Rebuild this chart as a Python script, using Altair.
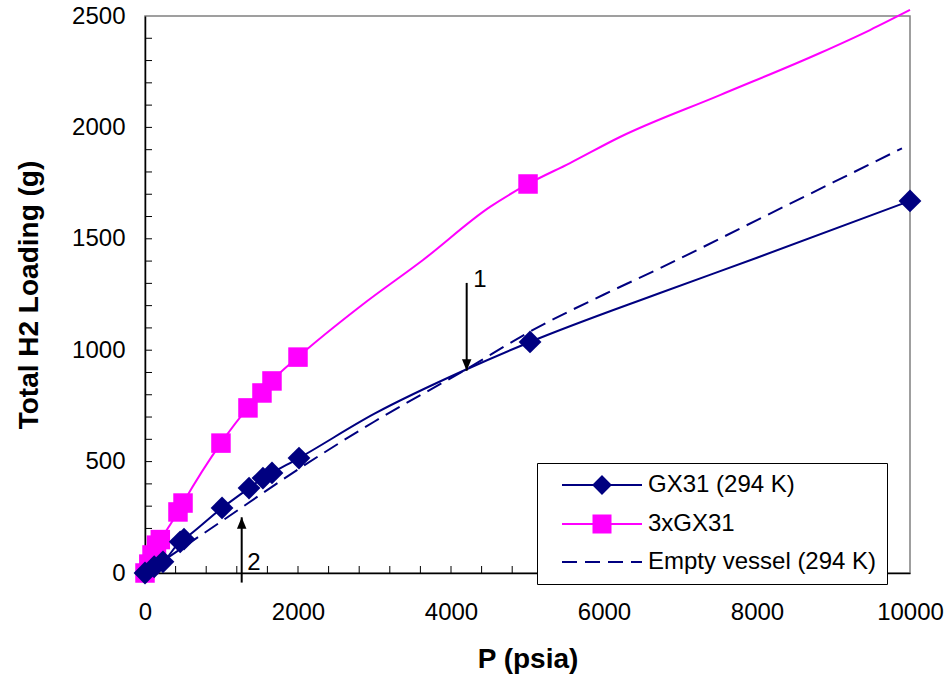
import altair as alt
import pandas as pd

FONT = "Liberation Sans"
NAVY = "#000080"
MAGENTA = "#FF00FF"

# ---- data ----
series_names = ["GX31 (294 K)", "3xGX31", "Empty vessel (294 K)"]

# GX31 (294 K): marked points
gx_p = [0, 120, 235, 460, 510, 1007, 1360, 1542, 1660, 2013, 5033, 10000]
gx_h2 = [0, 28, 50, 140, 152, 292, 381, 426, 449, 516, 1037, 1670]
# GX31 smoothed curve
gx_line_p = [0, 120, 235, 460, 510, 1007, 1360, 1542, 1660, 2013, 3000, 4183, 5033, 6732, 8000, 10000]
gx_line_h2 = [0, 28, 50, 140, 152, 292, 381, 426, 449, 516, 715, 911, 1037, 1257, 1415, 1670]

# 3xGX31: marked points
tx_p = [0, 50, 92, 150, 200, 431, 497, 993, 1346, 1529, 1660, 2000, 5007]
tx_h2 = [0, 40, 81, 125, 150, 274, 314, 583, 741, 808, 862, 969, 1746]
# 3xGX31 curve
tx_line_p = [0, 50, 92, 150, 200, 431, 497, 993, 1346, 1529, 1660, 2000, 2837, 3634, 4510,
             5007, 5556, 6209, 7516, 8824, 9477, 10000]
tx_line_h2 = [0, 40, 81, 125, 150, 274, 314, 583, 741, 808, 862, 969, 1203, 1405, 1643,
              1746, 1840, 1957, 2145, 2334, 2437, 2527]

# Empty vessel (294 K)
ev_p = [0, 1000, 2000, 3000, 4183, 5072, 6000, 6732, 8000, 9000, 9895]
ev_h2 = [0, 232, 465, 680, 911, 1091, 1250, 1368, 1584, 1754, 1906]

# annotation arrows: label, x, start, tip
arrow_labels = ["1", "2"]
arrow_p = [4205, 1264]
arrow_start = [1302, -43]
arrow_tip = [908, 250]
arrow_text_p = [4379, 1425]
arrow_text_h2 = [1315, 46]

# axis tick values
x_label_values = [0, 2000, 4000, 6000, 8000, 10000]
y_label_values = [0, 500, 1000, 1500, 2000, 2500]
x_minor = list(range(400, 10000, 400))
y_minor = list(range(100, 2500, 100))

# ---- encodings ----
x_enc = alt.X(
    "p:Q",
    scale=alt.Scale(domain=[0, 10000], nice=False, zero=False),
    axis=alt.Axis(
        values=x_label_values, format="d", ticks=False, grid=False, labelFlush=False,
        labelOverlap=False, labelPadding=27, labelFontSize=24, labelFont=FONT,
        labelColor="black", titleFont=FONT, titleFontSize=28, titleFontWeight="bold",
        titleColor="black", titlePadding=21, domainColor="black", domainWidth=1.5,
    ),
    title="P (psia)",
)
y_enc = alt.Y(
    "h2:Q",
    scale=alt.Scale(domain=[0, 2500], nice=False, zero=False),
    axis=alt.Axis(
        values=y_label_values, format="d", ticks=False, grid=False, labelOverlap=False,
        labelPadding=20, labelFontSize=24, labelFont=FONT, labelColor="black",
        titleFont=FONT, titleFontSize=28, titleFontWeight="bold", titleColor="black",
        titlePadding=28, domainColor="black", domainWidth=1.5,
    ),
    title="Total H2 Loading (g)",
)

ev_df = pd.DataFrame({"p": ev_p, "h2": ev_h2})
gx_line_df = pd.DataFrame({"p": gx_line_p, "h2": gx_line_h2})
gx_df = pd.DataFrame({"p": gx_p, "h2": gx_h2})
tx_line_df = pd.DataFrame({"p": tx_line_p, "h2": tx_line_h2})
tx_df = pd.DataFrame({"p": tx_p, "h2": tx_h2})
arrow_df = pd.DataFrame({"label": arrow_labels, "p": arrow_p, "h2": arrow_start, "tip": arrow_tip,
                         "tp": arrow_text_p, "th": arrow_text_h2})

ev_line = alt.Chart(ev_df).mark_line(color=NAVY, strokeWidth=2, strokeDash=[16, 8],
                                     interpolate="monotone").encode(x=x_enc, y=y_enc)
gx_line = alt.Chart(gx_line_df).mark_line(color=NAVY, strokeWidth=2,
                                          interpolate="monotone").encode(x=x_enc, y=y_enc)
tx_line = alt.Chart(tx_line_df).mark_line(color=MAGENTA, strokeWidth=2,
                                          interpolate="monotone").encode(x=x_enc, y=y_enc)
tx_pts = alt.Chart(tx_df).mark_point(shape="square", filled=True, color=MAGENTA, size=380,
                                     opacity=1).encode(x=x_enc, y=y_enc)
gx_pts = alt.Chart(gx_df).mark_point(shape="diamond", filled=True, color=NAVY, size=520,
                                     opacity=1).encode(x=x_enc, y=y_enc)

# inside minor ticks
xt = alt.Chart(pd.DataFrame({"p": x_minor})).mark_rule(color="black", strokeWidth=1).encode(
    x=x_enc, y=alt.value(557), y2=alt.value(550))
yt = alt.Chart(pd.DataFrame({"h2": y_minor})).mark_rule(color="black", strokeWidth=1).encode(
    y=y_enc, x=alt.value(0), x2=alt.value(7))

# arrows
arrow_rule = alt.Chart(arrow_df).mark_rule(color="black", strokeWidth=2).encode(
    x=x_enc, y=y_enc, y2="tip:Q")
head_down = alt.Chart(arrow_df).transform_filter("datum.label == '1'").mark_point(
    shape="M0,0L-1,-2.4L1,-2.4Z", filled=True, color="black", size=90, opacity=1
).encode(x=x_enc, y=alt.Y("tip:Q"))
head_up = alt.Chart(arrow_df).transform_filter("datum.label == '2'").mark_point(
    shape="M0,0L-1,2.4L1,2.4Z", filled=True, color="black", size=90, opacity=1
).encode(x=x_enc, y=alt.Y("tip:Q"))
arrow_text = alt.Chart(arrow_df).mark_text(font=FONT, fontSize=24, color="black",
                                           align="center", baseline="middle").encode(
    x=alt.X("tp:Q"), y=alt.Y("th:Q"), text="label:N")

# legend-only layer (draws nothing; legend comes from explicit scale domains)
legend_paths = [
    "M-4,0L-0.85,0M0,-0.85L0.85,0L0,0.85L-0.85,0ZM0.85,0L4,0",
    "M-4,0L-0.85,0M-0.85,-0.85L0.85,-0.85L0.85,0.85L-0.85,0.85ZM0.85,0L4,0",
    "M-4,0L-2.5,0M-1.7,0L-0.2,0M0.6,0L2.1,0M2.9,0L4,0",
]
legend_df = pd.DataFrame({"series": series_names, "p": [0, 0, 0], "h2": [0, 0, 0]})
leg = alt.Legend(
    title=None, orient="none", legendX=392, legendY=447, labelFont=FONT, labelFontSize=24,
    labelColor="black", labelLimit=500, symbolSize=400, symbolStrokeWidth=2, padding=10,
    rowPadding=13, symbolOffset=43, labelOffset=34, fillColor="white", strokeColor="black",
)
legend_layer = alt.Chart(legend_df).transform_filter("datum.p > 1e9").mark_point(
    size=400, opacity=1, strokeWidth=2
).encode(
    x=x_enc, y=y_enc,
    shape=alt.Shape("series:N", scale=alt.Scale(domain=series_names, range=legend_paths), legend=leg),
    fill=alt.Fill("series:N", scale=alt.Scale(domain=series_names,
                                             range=[NAVY, MAGENTA, "transparent"]), legend=leg),
    stroke=alt.Stroke("series:N", scale=alt.Scale(domain=series_names,
                                                 range=[NAVY, MAGENTA, NAVY]), legend=leg),
)

chart = alt.layer(
    xt, yt, ev_line, gx_line, tx_line, tx_pts, gx_pts,
    arrow_rule, head_down, head_up, arrow_text, legend_layer,
).properties(
    width=765, height=557,
    autosize=alt.AutoSizeParams(type="none"),
    padding={"left": 145, "top": 16, "right": 37, "bottom": 109},
    background="white",
).configure_view(stroke="#808080", strokeWidth=1.5)

chart.save("out.html", embed_options={"renderer": "svg", "actions": False})
